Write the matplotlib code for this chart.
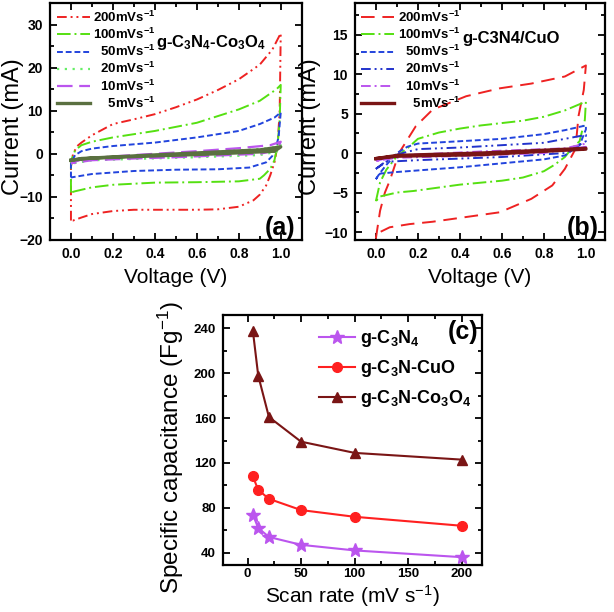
import matplotlib
matplotlib.use('Agg')
import matplotlib.pyplot as plt
from matplotlib.ticker import MultipleLocator

plt.rcParams['font.family'] = ['Liberation Sans', 'DejaVu Sans']
plt.rcParams['mathtext.fontset'] = 'custom'
plt.rcParams['mathtext.rm'] = 'Liberation Sans'
plt.rcParams['mathtext.bf'] = 'Liberation Sans:bold'
plt.rcParams['mathtext.it'] = 'Liberation Sans:italic'

# ---- panel (a): g-C3N4-Co3O4 CV loops (voltage V, current mA) ----
a200_v = [0.0, 0.0, 0.01, 0.03, 0.05, 0.1, 0.2, 0.3, 0.4, 0.5, 0.6, 0.7, 0.8, 0.9, 0.96, 1.0,
          0.995, 0.985, 0.97, 0.95, 0.93, 0.9, 0.87, 0.8, 0.7, 0.6, 0.5, 0.4, 0.3, 0.2, 0.1, 0.05, 0.01, 0.0]
a200_i = [-15.5, -3.0, 0.0, 1.8, 2.6, 4.3, 6.9, 8.0, 9.2, 10.8, 12.6, 14.8, 17.3, 20.7, 24.2, 28.0,
          10.0, 2.0, -2.0, -5.0, -7.4, -9.5, -10.8, -12.3, -12.9, -13.0, -13.0, -13.0, -13.0, -13.3, -14.0, -14.8, -15.5, -15.5]
a100_v = [0.0, 0.0, 0.02, 0.05, 0.1, 0.2, 0.4, 0.6, 0.8, 0.9, 0.98, 1.0,
          0.995, 0.985, 0.97, 0.95, 0.92, 0.9, 0.8, 0.6, 0.4, 0.2, 0.1, 0.02, 0.0]
a100_i = [-9.0, -1.6, 0.8, 2.0, 2.8, 3.8, 5.3, 7.2, 10.3, 12.3, 15.0, 16.0,
          8.0, 2.0, -1.5, -3.5, -5.0, -5.8, -6.4, -6.6, -6.7, -7.2, -7.8, -8.7, -9.0]
a50_v = [0.0, 0.0, 0.02, 0.05, 0.1, 0.2, 0.4, 0.6, 0.8, 0.9, 0.97, 1.0,
         0.99, 0.98, 0.96, 0.93, 0.85, 0.7, 0.5, 0.3, 0.1, 0.0]
a50_i = [-5.5, -2.0, -0.3, 0.6, 1.2, 1.8, 2.6, 3.8, 5.3, 6.9, 8.4, 9.6,
         4.0, 2.0, -0.5, -2.0, -3.2, -3.6, -3.7, -4.0, -4.7, -5.5]
a20_v = [0.0, 0.05, 0.2, 0.5, 0.8, 0.95, 1.0, 0.98, 0.9, 0.6, 0.3, 0.1, 0.0]
a20_i = [-2.3, -1.2, -0.8, 0.0, 0.8, 1.3, 2.0, 0.5, -0.3, -0.8, -1.2, -1.5, -2.3]
a10_v = [0.0, 0.05, 0.2, 0.4, 0.6, 0.8, 0.95, 1.0, 0.98, 0.9, 0.7, 0.5, 0.3, 0.1, 0.0]
a10_i = [-2.2, -1.3, -0.6, 0.0, 0.6, 1.3, 2.0, 2.8, 0.8, 0.0, -0.4, -0.8, -1.1, -1.5, -2.2]
a5_v = [0.0, 0.05, 0.3, 0.6, 0.9, 1.0, 0.97, 0.7, 0.4, 0.1, 0.0]
a5_i = [-1.5, -1.1, -0.5, 0.2, 0.9, 1.6, 0.6, 0.0, -0.5, -1.0, -1.5]

# ---- panel (b): g-C3N4/CuO CV loops ----
b200_v = [0.0, 0.02, 0.043, 0.066, 0.11, 0.19, 0.27, 0.43, 0.59, 0.74, 0.9, 1.0,
          0.99, 0.965, 0.95, 0.9, 0.84, 0.74, 0.59, 0.43, 0.27, 0.16, 0.066, 0.02, 0.0]
b200_i = [-10.8, -7.3, -5.0, -3.5, 0.0, 3.4, 5.5, 7.2, 8.2, 8.8, 9.7, 11.1,
          8.0, 4.7, 0.5, -2.0, -4.1, -5.8, -7.5, -8.1, -8.7, -9.0, -9.4, -10.0, -10.8]
b100_v = [0.0, 0.02, 0.05, 0.1, 0.15, 0.2, 0.3, 0.4, 0.5, 0.6, 0.7, 0.8, 0.9, 0.98, 1.0,
          0.995, 0.97, 0.93, 0.9, 0.85, 0.8, 0.7, 0.6, 0.4, 0.18, 0.1, 0.02, 0.0]
b100_i = [-6.1, -3.7, -2.1, -0.4, 0.6, 1.8, 2.6, 3.1, 3.5, 3.8, 4.1, 4.6, 5.4, 6.3, 6.5,
          4.2, 1.5, 0.5, -0.5, -1.5, -2.3, -3.1, -3.5, -4.0, -4.8, -5.0, -5.5, -6.1]
b50_v = [0.0, 0.02, 0.05, 0.1, 0.15, 0.2, 0.4, 0.6, 0.8, 0.9, 1.0,
         1.0, 0.97, 0.9, 0.8, 0.6, 0.4, 0.2, 0.1, 0.02, 0.0]
b50_i = [-3.3, -2.5, -1.5, 0.0, 0.8, 1.2, 1.5, 1.8, 2.4, 2.9, 3.5,
         3.0, 1.0, -0.3, -0.8, -1.3, -1.8, -2.2, -2.4, -2.6, -3.3]
b20_v = [0.0, 0.05, 0.1, 0.2, 0.4, 0.6, 0.8, 1.0, 1.0, 0.9, 0.6, 0.4, 0.2, 0.05, 0.0]
b20_i = [-2.0, -1.0, -0.2, 0.5, 0.7, 1.0, 1.3, 2.3, 1.5, 0.0, -0.5, -0.7, -0.9, -1.1, -2.0]
b10_v = [0.0, 0.1, 0.5, 0.9, 1.0, 1.0, 0.8, 0.5, 0.1, 0.0]
b10_i = [-1.0, -0.3, 0.2, 0.6, 1.2, 0.8, 0.0, -0.3, -0.6, -1.0]
b5_v = [0.0, 0.1, 0.5, 1.0, 1.0, 0.5, 0.1, 0.0]
b5_i = [-0.7, -0.3, 0.0, 0.6, 0.5, -0.2, -0.4, -0.7]

# ---- panel (c): specific capacitance vs scan rate ----
scan_rate = [5, 10, 20, 50, 100, 200]
cap_c3n4 = [74, 62, 54, 47, 42, 36]
cap_cuo = [108, 96, 88, 78, 72, 64]
cap_co3o4 = [238, 198, 161, 139, 129, 123]

rates = ['200', '100', '50', '20', '10', '5']


def leg_label(r):
    # pad short numbers so the labels line up on the right like the original
    pad = '  ' * (3 - len(r))
    return pad + r + r'mVs$^{\mathbf{-1}}$'


def style_axes(ax, xmaj, xmin, ymaj, ymin, xpad=5, size=10):
    ax.xaxis.set_major_locator(MultipleLocator(xmaj))
    ax.xaxis.set_minor_locator(MultipleLocator(xmin))
    ax.yaxis.set_major_locator(MultipleLocator(ymaj))
    ax.yaxis.set_minor_locator(MultipleLocator(ymin))
    ax.tick_params(which='both', direction='in', top=True, right=True, width=1.3)
    ax.tick_params(which='major', length=5, labelsize=size, pad=5)
    ax.tick_params(axis='x', which='major', pad=xpad)
    ax.tick_params(which='minor', length=3)
    for lab in ax.get_xticklabels() + ax.get_yticklabels():
        lab.set_fontweight('bold')
    for s in ax.spines.values():
        s.set_linewidth(1.6)


fig = plt.figure(figsize=(6.14, 6.12), dpi=100)
leg_kw = dict(loc='upper left', bbox_to_anchor=(0.0, 1.0), frameon=False,
              prop={'weight': 'bold', 'size': 9.5}, handlelength=2.5,
              labelspacing=0.15, handletextpad=0.25, borderaxespad=0.3, borderpad=0.2)

# (a)
ax1 = fig.add_axes([0.0814, 0.608, 0.410, 0.387])
a_curves = [(a200_v, a200_i), (a100_v, a100_i), (a50_v, a50_i),
            (a20_v, a20_i), (a10_v, a10_i), (a5_v, a5_i)]
a_colors = ['#ee2222', '#55e011', '#2244dd', '#66ee66', '#bb55ee', '#5a7040']
a_styles = [(0, (5, 2, 1, 2, 1, 2)), (0, (7, 2, 1, 2)), (0, (3, 1.5)),
            (0, (1, 2.5)), (0, (7, 3)), '-']
a_widths = [1.4, 1.4, 1.4, 1.6, 1.6, 2.4]
for (v, i), c, ls, lw, r in zip(a_curves, a_colors, a_styles, a_widths, rates):
    ax1.plot(v, i, color=c, linestyle=ls, lw=lw, label=leg_label(r))
ax1.set_xlim(-0.1, 1.1)
ax1.set_ylim(-20, 35)
style_axes(ax1, 0.2, 0.1, 10, 5)
ax1.set_xlabel('Voltage (V)', fontsize=15, labelpad=5)
ax1.set_ylabel('Current (mA)', fontsize=17)
ax1.yaxis.set_label_coords(-0.105, 0.48)
ax1.legend(**leg_kw)
ax1.text(0.42, 0.835, r'g-C$_\mathbf{3}$N$_\mathbf{4}$-Co$_\mathbf{3}$O$_\mathbf{4}$',
         transform=ax1.transAxes, fontsize=12, fontweight='bold', va='center')
ax1.text(0.975, 0.05, '(a)', transform=ax1.transAxes, fontsize=18,
         fontweight='bold', ha='right', va='center')

# (b)
ax2 = fig.add_axes([0.578, 0.608, 0.407, 0.387])
b_curves = [(b200_v, b200_i), (b100_v, b100_i), (b50_v, b50_i),
            (b20_v, b20_i), (b10_v, b10_i), (b5_v, b5_i)]
b_colors = ['#ee2222', '#55e011', '#2244dd', '#2233cc', '#bb55ee', '#7a1515']
b_styles = [(0, (7, 4)), (0, (7, 2, 1, 2)), (0, (3, 1.5)),
            (0, (5, 2, 1, 2, 1, 2)), (0, (5, 2, 1, 2)), '-']
b_widths = [1.4, 1.4, 1.4, 1.4, 1.4, 2.4]
for (v, i), c, ls, lw, r in zip(b_curves, b_colors, b_styles, b_widths, rates):
    ax2.plot(v, i, color=c, linestyle=ls, lw=lw, label=leg_label(r))
ax2.set_xlim(-0.1, 1.09)
ax2.set_ylim(-11, 19)
style_axes(ax2, 0.2, 0.1, 5, 2.5)
ax2.set_xlabel('Voltage (V)', fontsize=15, labelpad=5)
ax2.set_ylabel('Current (mA)', fontsize=17)
ax2.yaxis.set_label_coords(-0.135, 0.48)
ax2.legend(**leg_kw)
ax2.text(0.43, 0.85, 'g-C3N4/CuO', transform=ax2.transAxes, fontsize=12,
         fontweight='bold', va='center')
ax2.text(0.975, 0.05, '(b)', transform=ax2.transAxes, fontsize=18,
         fontweight='bold', ha='right', va='center')

# (c)
ax3 = fig.add_axes([0.363, 0.0768, 0.422, 0.4085])
ax3.plot(scan_rate, cap_c3n4, color='#bb55ee', marker='*', ms=10, lw=1.5,
         label=r'g-C$_\mathbf{3}$N$_\mathbf{4}$')
ax3.plot(scan_rate, cap_cuo, color='#ff2020', marker='o', ms=7, lw=1.5,
         label=r'g-C$_\mathbf{3}$N-CuO')
ax3.plot(scan_rate, cap_co3o4, color='#7a1515', marker='^', ms=7.5, lw=1.5,
         label=r'g-C$_\mathbf{3}$N-Co$_\mathbf{3}$O$_\mathbf{4}$')
ax3.set_xlim(-23, 219)
ax3.set_ylim(29, 252)
style_axes(ax3, 50, 25, 40, 20, xpad=2, size=9.5)
ax3.set_xlabel(r'Scan rate (mV s$^{-1}$)', fontsize=15)
ax3.xaxis.set_label_coords(0.5, -0.074)
ax3.set_ylabel(r'Specific capacitance (Fg$^{-1}$)', fontsize=17.5)
ax3.yaxis.set_label_coords(-0.143, 0.47)
ax3.legend(loc='upper left', bbox_to_anchor=(0.33, 0.99), frameon=False,
           prop={'weight': 'bold', 'size': 13}, handlelength=2.0,
           labelspacing=0.5, handletextpad=0.25, borderaxespad=0.2)
ax3.text(0.985, 0.93, '(c)', transform=ax3.transAxes, fontsize=18,
         fontweight='bold', ha='right', va='center')

fig.savefig('out.png', dpi=100)
